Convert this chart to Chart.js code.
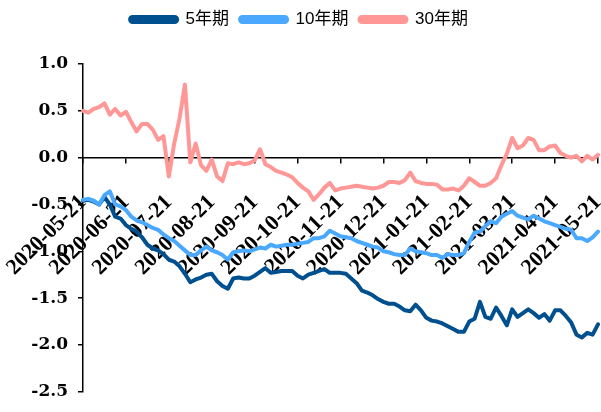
<!DOCTYPE html>
<html>
<head>
<meta charset="utf-8">
<script src="https://cdn.jsdelivr.net/npm/chart.js@4/dist/chart.umd.min.js"></script>
<style>
  html, body { margin: 0; padding: 0; background: #fff; }
  #wrap { width: 601px; height: 412px; }
</style>
</head>
<body>
<div id="wrap"><canvas id="lineChart"></canvas></div>
<script>
// monthly tick labels, 8 samples per month
var months = ['2020-05-21','2020-06-21','2020-07-21','2020-08-21','2020-09-21','2020-10-21',
              '2020-11-21','2020-12-21','2021-01-21','2021-02-21','2021-03-21','2021-04-21','2021-05-21'];
var perMonth = 8;

var y5 = [-0.46,-0.45,-0.47,-0.50,-0.42,-0.50,-0.63,-0.65,-0.72,-0.76,
          -0.79,-0.85,-0.93,-0.97,-0.99,-1.03,-1.09,-1.11,-1.16,-1.24,
          -1.33,-1.30,-1.28,-1.25,-1.24,-1.32,-1.37,-1.40,-1.29,-1.28,
          -1.29,-1.29,-1.26,-1.22,-1.18,-1.23,-1.22,-1.21,-1.21,-1.21,
          -1.26,-1.29,-1.25,-1.23,-1.21,-1.19,-1.23,-1.23,-1.23,-1.24,
          -1.29,-1.34,-1.42,-1.44,-1.47,-1.51,-1.54,-1.56,-1.56,-1.59,
          -1.63,-1.64,-1.57,-1.63,-1.71,-1.74,-1.75,-1.77,-1.80,-1.83,
          -1.86,-1.86,-1.75,-1.72,-1.54,-1.70,-1.72,-1.60,-1.69,-1.79,
          -1.62,-1.70,-1.66,-1.62,-1.66,-1.71,-1.67,-1.74,-1.63,-1.63,
          -1.69,-1.76,-1.89,-1.92,-1.87,-1.89,-1.78];

var y10 = [-0.45,-0.44,-0.46,-0.50,-0.40,-0.36,-0.50,-0.52,-0.56,-0.63,
           -0.67,-0.69,-0.72,-0.75,-0.77,-0.82,-0.86,-0.89,-0.94,-0.99,
           -1.04,-1.04,-0.99,-0.95,-0.99,-1.01,-1.04,-1.09,-1.01,-1.00,
           -0.99,-1.00,-0.98,-0.96,-0.97,-0.93,-0.95,-0.94,-0.93,-0.93,
           -0.92,-0.91,-0.90,-0.86,-0.86,-0.84,-0.78,-0.81,-0.84,-0.85,
           -0.86,-0.89,-0.91,-0.93,-0.95,-0.96,-1.00,-1.01,-1.03,-1.04,
           -1.04,-0.97,-1.00,-1.01,-1.02,-1.04,-1.04,-1.07,-1.03,-1.04,
           -1.04,-1.02,-0.90,-0.80,-0.79,-0.73,-0.68,-0.70,-0.63,-0.60,
           -0.57,-0.62,-0.64,-0.66,-0.62,-0.65,-0.68,-0.70,-0.72,-0.74,
           -0.76,-0.77,-0.86,-0.86,-0.89,-0.85,-0.79];

var y30 = [0.50,0.48,0.52,0.54,0.58,0.46,0.52,0.45,0.49,0.38,
           0.28,0.36,0.36,0.30,0.19,0.23,-0.20,0.15,0.42,0.78,
           -0.05,0.15,-0.08,-0.14,-0.02,-0.20,-0.25,-0.06,-0.07,-0.05,
           -0.07,-0.06,-0.03,0.09,-0.07,-0.10,-0.14,-0.16,-0.18,-0.21,
           -0.27,-0.32,-0.36,-0.45,-0.39,-0.32,-0.27,-0.35,-0.33,-0.32,
           -0.31,-0.30,-0.31,-0.32,-0.33,-0.32,-0.30,-0.26,-0.26,-0.27,
           -0.24,-0.16,-0.25,-0.27,-0.28,-0.28,-0.29,-0.34,-0.34,-0.33,
           -0.35,-0.30,-0.22,-0.26,-0.30,-0.30,-0.27,-0.22,-0.08,0.04,
           0.21,0.10,0.13,0.21,0.19,0.08,0.08,0.12,0.13,0.05,
           0.02,0.00,0.02,-0.04,0.02,-0.02,0.03];

var labels = [];
for (var i = 0; i < y5.length; i++) {
    labels.push(i % perMonth === 0 ? months[i / perMonth] : '');
}

var legendGap = {
    id: 'legendGap',
    beforeInit: function(chart) {
        var fit = chart.legend.fit;
        chart.legend.fit = function() {
            fit.bind(chart.legend)();
            this.height += 26;
        };
    }
};

new Chart(document.getElementById('lineChart'), {
    type: 'line',
    data: {
        labels: labels,
        datasets: [
            { label: '5年期', data: y5, borderColor: '#00508F', backgroundColor: '#00508F', order: 2 },
            { label: '10年期', data: y10, borderColor: '#4AA8FF', backgroundColor: '#4AA8FF', order: 1 },
            { label: '30年期', data: y30, borderColor: '#FF9797', backgroundColor: '#FF9797', order: 0 }
        ]
    },
    options: {
        responsive: true,
        maintainAspectRatio: false,
        animation: false,
        layout: { padding: { left: 0, right: 3, top: 0, bottom: 14 } },
        elements: {
            point: { radius: 0 },
            line: { borderWidth: 4, tension: 0, borderJoinStyle: 'round', borderCapStyle: 'round' }
        },
        plugins: {
            tooltip: { enabled: false },
            legend: {
                position: 'top',
                labels: {
                    boxWidth: 47,
                    boxHeight: 5,
                    useBorderRadius: true,
                    borderRadius: 2.5,
                    padding: 11,
                    color: '#000',
                    font: { family: '"Liberation Sans", "Noto Sans CJK SC", sans-serif', size: 17 },
                    sort: function(a, b) { return a.datasetIndex - b.datasetIndex; }
                }
            }
        },
        scales: {
            x: {
                type: 'category',
                position: { y: 0 },
                z: 1,
                offset: false,
                grid: { drawOnChartArea: false, tickLength: 5, color: '#000', lineWidth: 1.5 },
                border: { color: '#000', width: 1.5 },
                ticks: {
                    autoSkip: false,
                    minRotation: 45,
                    maxRotation: 45,
                    padding: 27,
                    color: '#000',
                    font: { family: '"Liberation Serif", serif', weight: 'bold', size: 22 }
                },
                afterBuildTicks: function(scale) {
                    scale.ticks = scale.ticks.filter(function(t) { return t.value % perMonth === 0; });
                },
                afterFit: function(scale) {
                    scale.height = 0;
                    scale.paddingLeft = 0;
                    scale.paddingRight = 0;
                }
            },
            y: {
                min: -2.5,
                max: 1.0,
                grid: { drawOnChartArea: false, tickLength: 5, color: '#000', lineWidth: 1.5 },
                border: { color: '#000', width: 1.5 },
                ticks: {
                    stepSize: 0.5,
                    padding: 10,
                    color: '#000',
                    font: { family: '"DejaVu Serif", serif', weight: 'bold', size: 17 },
                    callback: function(v) { return v.toFixed(1); }
                },
                afterFit: function(scale) { scale.width = 83; }
            }
        }
    },
    plugins: [legendGap]
});
</script>
</body>
</html>
